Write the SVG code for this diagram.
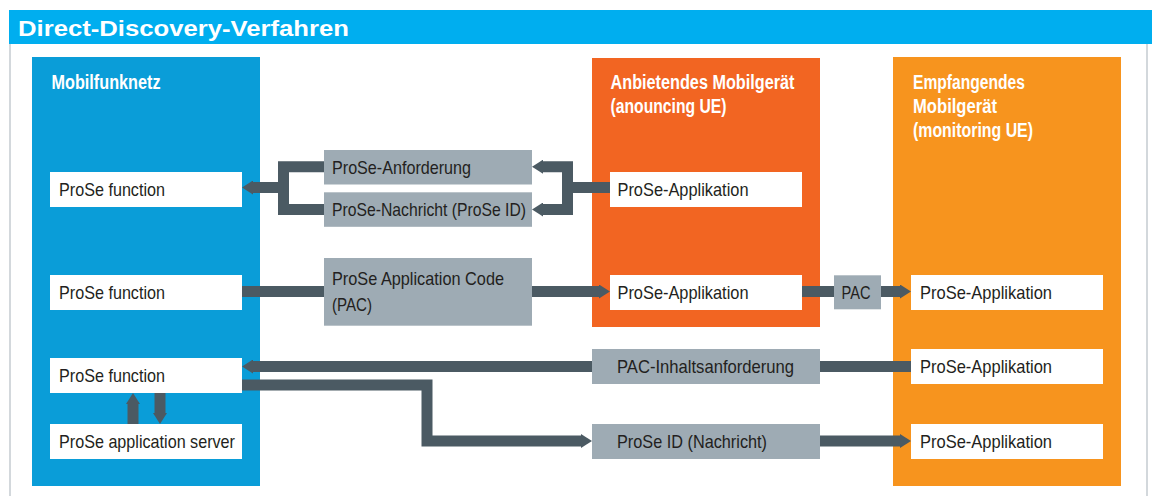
<svg xmlns="http://www.w3.org/2000/svg" width="1152" height="496" viewBox="0 0 1152 496">
  <style>
    .frame { stroke: #d3d8dc; stroke-width: 2; fill: none; }
    .net { fill: #0a9dd8; }
    .ue1 { fill: #f26522; }
    .ue2 { fill: #f7941e; }
    .wbox { fill: #ffffff; }
    .gbox { fill: #9eabb4; }
    .head { font-family: "Liberation Sans", Arial, sans-serif; font-weight: bold; font-size: 19.5px; fill: #ffffff; }
    .lbl { font-family: "Liberation Sans", Arial, sans-serif; font-size: 18.5px; fill: #231f20; }
    .title { font-family: "Liberation Sans", Arial, sans-serif; font-weight: bold; font-size: 22.5px; fill: #ffffff; }
    .conn { fill: none; stroke: #4b5a63; stroke-width: 11; stroke-linejoin: miter; stroke-linecap: butt; }
  </style>
  <defs>
    <marker id="ah" markerUnits="userSpaceOnUse" markerWidth="12" markerHeight="14" refX="1" refY="7" orient="auto-start-reverse">
      <path d="M0,0 L11,7 L0,14 Z" fill="#4b5a63"/>
    </marker>
  </defs>

  <!-- page frame and title bar -->
  <g id="frame">
    <line class="frame" x1="10" y1="44" x2="10" y2="496"/>
    <line class="frame" x1="1147" y1="44" x2="1147" y2="496"/>
    <rect x="9" y="10" width="1143" height="34" fill="#00aeef"/>
    <text class="title" x="18" y="36" textLength="331" lengthAdjust="spacingAndGlyphs">Direct-Discovery-Verfahren</text>
  </g>

  <!-- containers -->
  <g id="mobilfunknetz">
    <rect class="net" x="32" y="57" width="228" height="429"/>
    <text class="head" x="51.5" y="89" textLength="109" lengthAdjust="spacingAndGlyphs">Mobilfunknetz</text>
  </g>
  <g id="announcing-ue">
    <rect class="ue1" x="592" y="58" width="228" height="269"/>
    <text class="head" x="610.5" y="89" textLength="184" lengthAdjust="spacingAndGlyphs">Anbietendes Mobilgerät</text>
    <text class="head" x="610.5" y="113" textLength="116" lengthAdjust="spacingAndGlyphs">(anouncing UE)</text>
  </g>
  <g id="monitoring-ue">
    <rect class="ue2" x="893" y="57" width="228" height="429"/>
    <text class="head" x="913" y="89" textLength="112" lengthAdjust="spacingAndGlyphs">Empfangendes</text>
    <text class="head" x="913" y="113" textLength="84" lengthAdjust="spacingAndGlyphs">Mobilgerät</text>
    <text class="head" x="913" y="137" textLength="120" lengthAdjust="spacingAndGlyphs">(monitoring UE)</text>
  </g>

  <!-- connectors -->
  <g id="connectors">
    <!-- request / ProSe ID exchange -->
    <path class="conn" d="M324,166.7 H283.5 V209.5 H324"/>
    <path class="conn" d="M283.5,187.5 H252" marker-end="url(#ah)"/>
    <path class="conn" d="M542,166.7 H567.5 V209.5 H542" marker-start="url(#ah)" marker-end="url(#ah)"/>
    <path class="conn" d="M610,187.5 H567.5"/>
    <!-- PAC distribution -->
    <path class="conn" d="M242,291.5 H324"/>
    <path class="conn" d="M532,291.5 H600" marker-end="url(#ah)"/>
    <path class="conn" d="M802,291.5 H834"/>
    <path class="conn" d="M881,291.5 H901" marker-end="url(#ah)"/>
    <!-- PAC content request -->
    <path class="conn" d="M911,366.5 H820"/>
    <path class="conn" d="M592,366.5 H252" marker-end="url(#ah)"/>
    <!-- ProSe ID message -->
    <path class="conn" d="M242,385 H427 V441 H582" marker-end="url(#ah)"/>
    <path class="conn" d="M820,441 H901" marker-end="url(#ah)"/>
    <!-- function <-> application server -->
    <path class="conn" d="M133,424 V403" marker-end="url(#ah)"/>
    <path class="conn" d="M160,393 V414" marker-end="url(#ah)"/>
  </g>

  <!-- network side nodes -->
  <g id="prose-function-1">
    <rect class="wbox" x="50" y="172" width="192" height="35"/>
    <text class="lbl" x="59" y="196" textLength="106" lengthAdjust="spacingAndGlyphs">ProSe function</text>
  </g>
  <g id="prose-function-2">
    <rect class="wbox" x="50" y="275" width="192" height="35"/>
    <text class="lbl" x="59" y="299" textLength="106" lengthAdjust="spacingAndGlyphs">ProSe function</text>
  </g>
  <g id="prose-function-3">
    <rect class="wbox" x="50" y="358" width="192" height="35"/>
    <text class="lbl" x="59" y="382" textLength="106" lengthAdjust="spacingAndGlyphs">ProSe function</text>
  </g>
  <g id="prose-app-server">
    <rect class="wbox" x="50" y="424" width="192" height="35"/>
    <text class="lbl" x="59" y="448" textLength="176" lengthAdjust="spacingAndGlyphs">ProSe application server</text>
  </g>

  <!-- message labels -->
  <g id="msg-anforderung">
    <rect class="gbox" x="324" y="150" width="208" height="34.5"/>
    <text class="lbl" x="332" y="173.5" textLength="139" lengthAdjust="spacingAndGlyphs">ProSe-Anforderung</text>
  </g>
  <g id="msg-nachricht">
    <rect class="gbox" x="324" y="192.3" width="208" height="34.5"/>
    <text class="lbl" x="332" y="216" textLength="194" lengthAdjust="spacingAndGlyphs">ProSe-Nachricht (ProSe ID)</text>
  </g>
  <g id="msg-pac">
    <rect class="gbox" x="324" y="258" width="208" height="67.7"/>
    <text class="lbl" x="332" y="285" textLength="172" lengthAdjust="spacingAndGlyphs">ProSe Application Code</text>
    <text class="lbl" x="332" y="310.5" textLength="40" lengthAdjust="spacingAndGlyphs">(PAC)</text>
  </g>
  <g id="msg-pac-short">
    <rect class="gbox" x="834" y="275.3" width="47" height="34"/>
    <text class="lbl" x="841.5" y="299" textLength="29" lengthAdjust="spacingAndGlyphs">PAC</text>
  </g>
  <g id="msg-pac-inhalt">
    <rect class="gbox" x="592" y="349" width="228" height="35"/>
    <text class="lbl" x="617" y="373" textLength="177" lengthAdjust="spacingAndGlyphs">PAC-Inhaltsanforderung</text>
  </g>
  <g id="msg-prose-id">
    <rect class="gbox" x="592" y="424" width="228" height="35"/>
    <text class="lbl" x="617" y="448" textLength="150" lengthAdjust="spacingAndGlyphs">ProSe ID (Nachricht)</text>
  </g>

  <!-- device applications -->
  <g id="announcing-app-1">
    <rect class="wbox" x="610" y="172" width="192" height="35"/>
    <text class="lbl" x="617.5" y="196" textLength="131" lengthAdjust="spacingAndGlyphs">ProSe-Applikation</text>
  </g>
  <g id="announcing-app-2">
    <rect class="wbox" x="610" y="275" width="192" height="35"/>
    <text class="lbl" x="617.5" y="299" textLength="131" lengthAdjust="spacingAndGlyphs">ProSe-Applikation</text>
  </g>
  <g id="monitoring-app-1">
    <rect class="wbox" x="911" y="275" width="192" height="35"/>
    <text class="lbl" x="920" y="299" textLength="132" lengthAdjust="spacingAndGlyphs">ProSe-Applikation</text>
  </g>
  <g id="monitoring-app-2">
    <rect class="wbox" x="911" y="349" width="192" height="35"/>
    <text class="lbl" x="920" y="373" textLength="132" lengthAdjust="spacingAndGlyphs">ProSe-Applikation</text>
  </g>
  <g id="monitoring-app-3">
    <rect class="wbox" x="911" y="424" width="192" height="35"/>
    <text class="lbl" x="920" y="448" textLength="132" lengthAdjust="spacingAndGlyphs">ProSe-Applikation</text>
  </g>
</svg>
